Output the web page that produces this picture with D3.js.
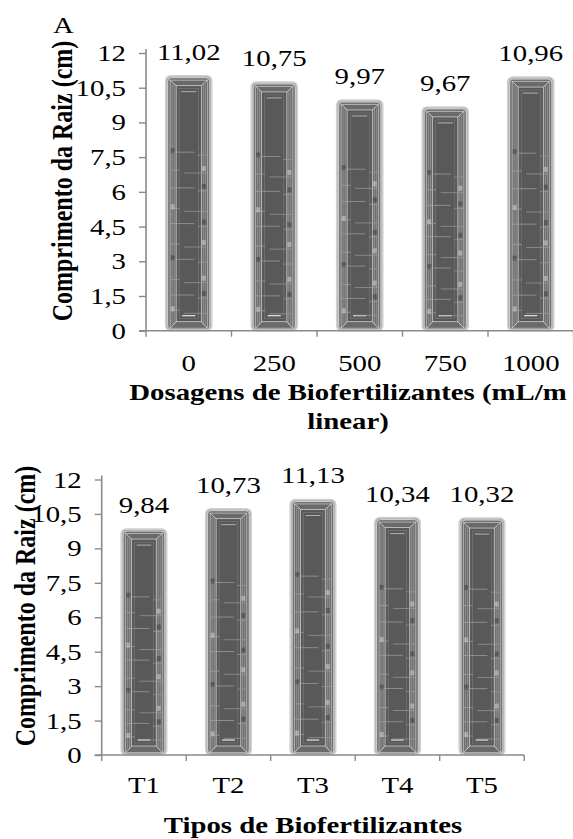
<!DOCTYPE html>
<html>
<head>
<meta charset="utf-8">
<script src="https://cdn.jsdelivr.net/npm/d3@7"></script>
<style>
  html, body { margin: 0; padding: 0; background: #fff; }
  svg { display: block; }
  text { font-family: "Liberation Serif", "Times New Roman", serif; fill: #000; }
</style>
</head>
<body>
<svg id="chart" width="573" height="839"></svg>
<script>
// Root length by biofertilizer dose (panel A)
const doseCategories = ["0", "250", "500", "750", "1000"];
const doseValues = [11.02, 10.75, 9.97, 9.67, 10.96];

// Root length by biofertilizer type (panel B)
const typeCategories = ["T1", "T2", "T3", "T4", "T5"];
const typeValues = [9.84, 10.73, 11.13, 10.34, 10.32];

// Shared y-axis ticks
const yTicks = [0, 1.5, 3, 4.5, 6, 7.5, 9, 10.5, 12];
const yTitle = "Comprimento da Raiz (cm)";

const fmt = v => String(v).replace(".", ",");
const fmt2 = v => v.toFixed(2).replace(".", ",");

const svg = d3.select("#chart");
const axisColor = "#8a8a8a";
const SX = 1.2;          // horizontal widening of the lettering
const FS = 24;           // regular text size
const FSB = 24;          // bold title size

// text placed at (x, y) and widened horizontally
function label(parent, x, y, str, opts = {}) {
  const t = parent.append("text")
    .attr("transform", `translate(${x},${y}) scale(${SX},1)` + (opts.rotate ? ` rotate(${opts.rotate})` : ""))
    .attr("text-anchor", opts.anchor || "middle")
    .attr("font-size", opts.size || FS)
    .text(str);
  if (opts.bold) t.attr("font-weight", "bold");
  return t;
}

// Beveled, metallic-looking bar built from nested outlines
function drawBar(g, x, y, w, h) {
  const b = g.append("g");
  b.append("rect").attr("x", x).attr("y", y).attr("width", w).attr("height", h)
    .attr("rx", 5).attr("fill", "#a9a9a9").attr("stroke", "#d2d2d2").attr("stroke-width", 1.5);
  b.append("rect").attr("x", x + 2).attr("y", y + 2).attr("width", w - 4).attr("height", h - 3)
    .attr("rx", 4).attr("fill", "#727272").attr("stroke", "#e4e4e4").attr("stroke-width", 0.8);
  b.append("rect").attr("x", x + 4.5).attr("y", y + 4.5).attr("width", w - 9).attr("height", h - 7)
    .attr("fill", "#6a6a6a").attr("stroke", "#bdbdbd").attr("stroke-width", 0.8);
  // side strips with vertical highlights
  [6.5, 8.5, w - 8.5, w - 6.5].forEach(dx => {
    b.append("line").attr("x1", x + dx).attr("x2", x + dx).attr("y1", y + 8).attr("y2", y + h - 6)
      .attr("stroke", "#9a9a9a").attr("stroke-width", 0.8);
  });
  const ix = x + 10.5, iy = y + 10, iw = w - 21, ih = h - 19;
  b.append("rect").attr("x", ix).attr("y", iy).attr("width", iw).attr("height", ih)
    .attr("fill", "#585858").attr("stroke", "#cfcfcf").attr("stroke-width", 0.8);
  b.append("rect").attr("x", ix + 3).attr("y", iy + 3).attr("width", iw - 6).attr("height", ih - 6)
    .attr("fill", "#595959").attr("stroke", "#7c7c7c").attr("stroke-width", 0.6);
  // bevel diagonals at the corners
  [[x + 4.5, y + 4.5, ix, iy], [x + w - 4.5, y + 4.5, ix + iw, iy],
   [x + 4.5, y + h - 2.5, ix, iy + ih], [x + w - 4.5, y + h - 2.5, ix + iw, iy + ih]].forEach(c => {
    b.append("line").attr("x1", c[0]).attr("y1", c[1]).attr("x2", c[2]).attr("y2", c[3])
      .attr("stroke", "#dcdcdc").attr("stroke-width", 0.8);
  });
  // top/bottom bevel bands
  b.append("line").attr("x1", ix + 5).attr("x2", ix + iw - 5).attr("y1", iy + 6).attr("y2", iy + 6)
    .attr("stroke", "#c8c8c8").attr("stroke-width", 0.8);
  b.append("line").attr("x1", ix + 6).attr("x2", ix + iw - 6).attr("y1", iy + ih - 6).attr("y2", iy + ih - 6)
    .attr("stroke", "#e8e8e8").attr("stroke-width", 1.2);
  // horizontal texture lines in the lower part of the bar
  const fr = [0.30, 0.37, 0.44, 0.52, 0.58, 0.66, 0.72, 0.80, 0.86, 0.92];
  fr.forEach((f, i) => {
    const yy = y + h * f;
    const left = i % 2 === 0;
    b.append("line").attr("x1", x + 4.5).attr("x2", x + (left ? w * 0.62 : w * 0.3)).attr("y1", yy).attr("y2", yy)
      .attr("stroke", "#a4a4a4").attr("stroke-width", 0.7);
    b.append("line").attr("x1", x + (left ? w * 0.7 : w * 0.4)).attr("x2", x + w - 4.5).attr("y1", yy + 3).attr("y2", yy + 3)
      .attr("stroke", "#9c9c9c").attr("stroke-width", 0.7);
  });
  // small shaded blocks on the side strips
  fr.forEach((f, i) => {
    const yy = y + h * f;
    b.append("rect").attr("x", x + (i % 3 === 0 ? 5 : w - 10)).attr("y", yy - 4).attr("width", 4).attr("height", 5)
      .attr("fill", i % 2 ? "#cfcfcf" : "#3e3e3e").attr("opacity", 0.55);
  });
}

function drawPanel(opts) {
  const { cats, vals, x0, x1, yTop, yBottom, tickLabelBaseline, titleLines, titleBaselines, titleX, yTitleX, yTitleY } = opts;
  const g = svg.append("g");
  const x = d3.scaleBand().domain(cats).range([x0, x1]).paddingInner(0.46).paddingOuter(0.23);
  const y = d3.scaleLinear().domain([0, 12]).range([yBottom, yTop]);
  const step = x.step();

  // y axis (line and ticks from d3, labels widened separately)
  const yAxis = g.append("g").attr("transform", `translate(${x0},0)`)
    .call(d3.axisLeft(y).tickValues(yTicks).tickFormat("").tickSize(7));
  yAxis.select(".domain").attr("stroke", axisColor).attr("stroke-width", 1.6).attr("d", `M0,${yBottom}V${yTop - 4}`);
  yAxis.selectAll(".tick line").attr("stroke", axisColor).attr("stroke-width", 1.4);
  yTicks.forEach(v => label(g, x0 - 20, y(v) + 8, fmt(v), { anchor: "end" }));

  // bars
  cats.forEach((c, i) => {
    const bx = x(c), bw = x.bandwidth();
    const by = y(vals[i]);
    drawBar(g, bx, by, bw, yBottom - by);
  });

  // x axis
  g.append("line").attr("x1", x0 - 7).attr("x2", x1).attr("y1", yBottom).attr("y2", yBottom)
    .attr("stroke", axisColor).attr("stroke-width", 1.6);
  d3.range(cats.length + 1).forEach(i => {
    const tx = x0 + i * step;
    g.append("line").attr("x1", tx).attr("x2", tx).attr("y1", yBottom).attr("y2", yBottom + 6)
      .attr("stroke", axisColor).attr("stroke-width", 1.4);
  });
  cats.forEach(c => label(g, x(c) + x.bandwidth() / 2, tickLabelBaseline, c));

  // value labels
  vals.forEach((v, i) => label(g, x(cats[i]) + x.bandwidth() / 2, y(v) - 16, fmt2(v)));

  // axis titles
  titleLines.forEach((t, i) => label(g, titleX, titleBaselines[i], t, { bold: true, size: FSB }));
  label(g, yTitleX, yTitleY, yTitle, { bold: true, size: FSB, rotate: -90 });
}

// panel label
label(svg, 53, 33, "A", { anchor: "start" });

drawPanel({
  cats: doseCategories, vals: doseValues,
  x0: 146, x1: 573.5, yTop: 53, yBottom: 330.7,
  tickLabelBaseline: 371,
  titleLines: ["Dosagens de Biofertilizantes (mL/m", "linear)"],
  titleBaselines: [400, 429], titleX: 348, yTitleX: 72, yTitleY: 181
});

drawPanel({
  cats: typeCategories, vals: typeValues,
  x0: 101.7, x1: 524.2, yTop: 479.5, yBottom: 755,
  tickLabelBaseline: 793,
  titleLines: ["Tipos de Biofertilizantes"],
  titleBaselines: [833], titleX: 313, yTitleX: 35, yTitleY: 606
});
</script>
</body>
</html>
